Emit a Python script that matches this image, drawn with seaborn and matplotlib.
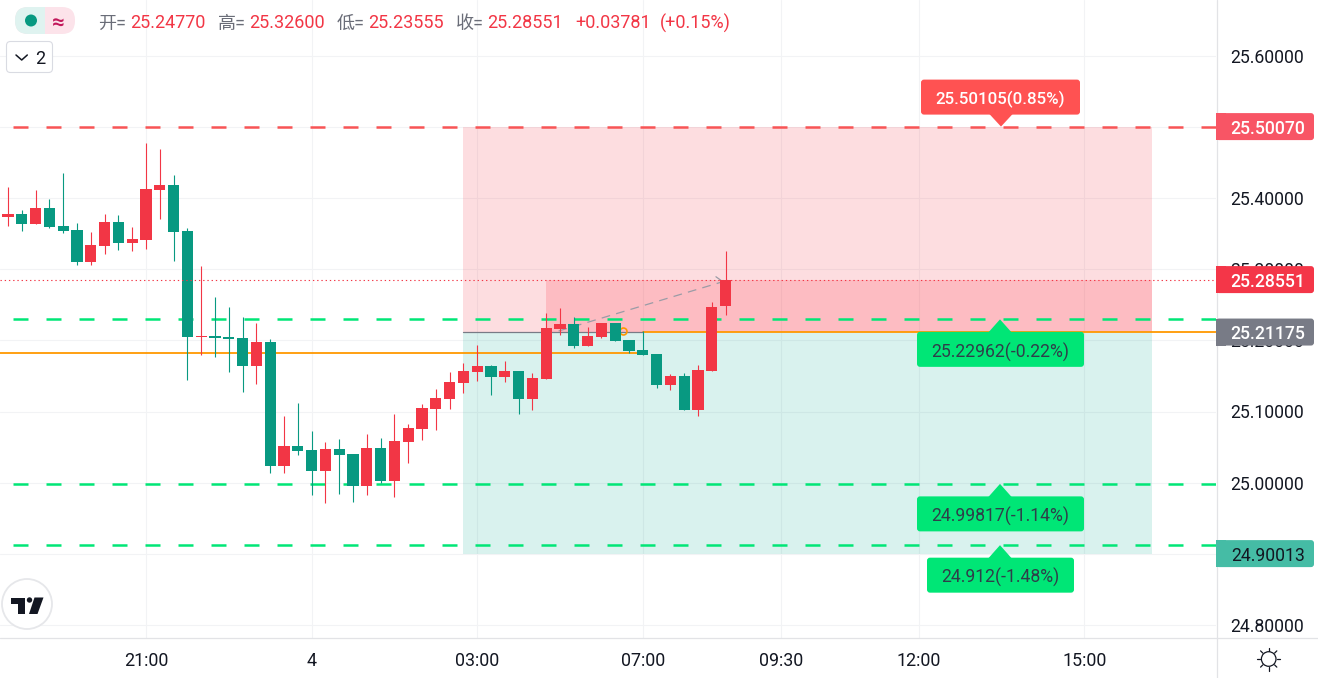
import numpy as np
import pandas as pd
import matplotlib
matplotlib.use('Agg')
import matplotlib.pyplot as plt
import seaborn as sns
from matplotlib.lines import Line2D
from matplotlib.patches import Circle, FancyBboxPatch, Polygon, Rectangle
from matplotlib.transforms import IdentityTransform

# candles, oldest first
opens = [25.3735, 25.3777, 25.3637, 25.3862, 25.3609, 25.3552, 25.3102, 25.3327, 25.3665, 25.3369,
         25.3412, 25.4115, 25.4185, 25.3538, 25.2047, 25.2061, 25.2047, 25.2033, 25.1639, 25.1977,
         25.0233, 25.0514, 25.0458, 25.0163, 25.0472, 25.0402, 24.9952, 25.0486, 25.0022, 25.0571,
         25.0753, 25.1035, 25.1175, 25.1400, 25.1555, 25.1639, 25.1485, 25.1569, 25.1175, 25.1457,
         25.2160, 25.2230, 25.1921, 25.2047, 25.2244, 25.2005, 25.1865, 25.1808, 25.1372, 25.1499,
         25.1021, 25.1569, 25.24770]
highs = [25.4157, 25.3834, 25.4115, 25.3988, 25.4354, 25.3651, 25.3524, 25.3777, 25.3763, 25.3594,
         25.4776, 25.4692, 25.4326, 25.3580, 25.3046, 25.2610, 25.2469, 25.2329, 25.2244, 25.2019,
         25.0936, 25.1119, 25.0725, 25.0571, 25.0613, 25.0402, 25.0683, 25.0627, 25.0964, 25.0824,
         25.1105, 25.1316, 25.1555, 25.1682, 25.1935, 25.1654, 25.1710, 25.1569, 25.1541, 25.2385,
         25.2455, 25.2329, 25.2188, 25.2244, 25.2244, 25.2005, 25.2132, 25.1808, 25.1527, 25.1541,
         25.1654, 25.2540, 25.32600]
lows = [25.3609, 25.3538, 25.3637, 25.3580, 25.3510, 25.3060, 25.3060, 25.3215, 25.3271, 25.3257,
        25.3285, 25.3707, 25.3116, 25.1443, 25.1794, 25.1766, 25.1555, 25.1274, 25.1386, 25.0135,
        25.0135, 25.0388, 24.9825, 24.9713, 24.9839, 24.9727, 24.9825, 24.9994, 24.9797, 25.0275,
        25.0599, 25.0739, 25.1035, 25.1260, 25.1429, 25.1232, 25.1414, 25.0964, 25.1021, 25.1457,
        25.2075, 25.1893, 25.1921, 25.2033, 25.1991, 25.1822, 25.1794, 25.1330, 25.1302, 25.1021,
        25.0936, 25.1569, 25.23555]
closes = [25.3777, 25.3637, 25.3862, 25.3594, 25.3538, 25.3102, 25.3341, 25.3665, 25.3369, 25.3426,
          25.4129, 25.4185, 25.3524, 25.2047, 25.2061, 25.2033, 25.2019, 25.1639, 25.1977, 25.0233,
          25.0514, 25.0444, 25.0163, 25.0472, 25.0388, 24.9952, 25.0486, 25.0022, 25.0585, 25.0767,
          25.1049, 25.1189, 25.1414, 25.1569, 25.1639, 25.1485, 25.1569, 25.1175, 25.1471, 25.2174,
          25.2230, 25.1921, 25.2061, 25.2244, 25.1991, 25.1850, 25.1794, 25.1372, 25.1499, 25.1021,
          25.1583, 25.2469, 25.28551]

x_tick_pos = [10, 22, 34, 46, 56, 66, 78]
x_tick_labels = ['21:00', '4', '03:00', '07:00', '09:30', '12:00', '15:00']
y_ticks = [24.8, 24.9, 25.0, 25.1, 25.2, 25.3, 25.4, 25.5, 25.6]

take_profit = 25.50070
stop_loss = 24.90013
entry = 25.21175
last_price = 25.28551
old_orange = 25.1822
green_levels = [25.2296, 24.9982, 24.9120]

# position box and arrow, in candle index units
box_start, box_split, box_end = 33, 39, 82.9
arrow_x = [39.9, 51.7]
arrow_y = [25.2132, 25.2820]

W, H = 1318, 678
PLOT_W, PLOT_H = 1216, 638
BAR_PX = 13.8
RED = '#f23645'
GREEN = '#089981'
DASH_GREEN = '#00e676'
DASH_RED = '#f85455'
ORANGE = '#ff9800'
GREY = '#787b86'
DARK = '#131722'
BORDER = '#e2e3e6'

sns.set_theme(style='white')
plt.rcParams['font.family'] = ['Roboto', 'Noto Sans CJK SC', 'DejaVu Sans']

df = pd.DataFrame({'idx': range(len(opens)), 'open': opens, 'high': highs, 'low': lows, 'close': closes})
df['bottom'] = df[['open', 'close']].min(axis=1)
df['body'] = (df['close'] - df['open']).abs()
up = df[df['close'] > df['open']]
down = df[df['close'] <= df['open']]

fig = plt.figure(figsize=(W / 100, H / 100), dpi=100, facecolor='white')
ax = fig.add_axes([0, (H - PLOT_H) / H, PLOT_W / W, PLOT_H / H])

# bodies and wicks
for part, color in [(up, RED), (down, GREEN)]:
    sns.barplot(data=part, x='idx', y='body', bottom=part['bottom'].values, native_scale=True,
                color=color, saturation=1, width=0.8, linewidth=0, errorbar=None, ax=ax, zorder=5)
    ax.vlines(part['idx'], part['low'], part['high'], colors=color, linewidth=0.8, zorder=4.5)

ax.set_xlim(10 - 146 / BAR_PX, 10 + (PLOT_W - 146) / BAR_PX)
ax.set_ylim(25.6 - (PLOT_H - 56) / 711, 25.6 + 56 / 711)
xmin, xmax = ax.get_xlim()

# position boxes
ax.axhspan(entry, take_profit, xmin=(box_start - xmin) / (xmax - xmin), xmax=(box_end - xmin) / (xmax - xmin),
           color='#f53b49', alpha=0.17, linewidth=0, zorder=1)
ax.axhspan(entry, last_price, xmin=(box_split - xmin) / (xmax - xmin), xmax=(box_end - xmin) / (xmax - xmin),
           color='#ff3c4a', alpha=0.2, linewidth=0, zorder=1.1)
ax.axhspan(stop_loss, entry, xmin=(box_start - xmin) / (xmax - xmin), xmax=(box_end - xmin) / (xmax - xmin),
           color='#02a88e', alpha=0.15, linewidth=0, zorder=1)

# level lines
dash = (0, (6, 7.2))
line_x0 = 10 + (13 - 146) / BAR_PX
ax.plot([line_x0, xmax], [take_profit, take_profit], color=DASH_RED, lw=1.8, ls=dash, dash_capstyle='butt', zorder=3)
for level in green_levels:
    ax.plot([line_x0, xmax], [level, level], color=DASH_GREEN, lw=1.8, ls=dash, dash_capstyle='butt', zorder=3)
ax.plot([xmin, 45.6], [old_orange, old_orange], color=ORANGE, lw=1.3, zorder=3)
ax.plot([46, xmax], [entry, entry], color=ORANGE, lw=1.3, zorder=3)
ax.plot([box_start, 46], [entry, entry], color=GREY, lw=0.9, zorder=3)
ax.plot([44.55], [25.2132], marker='o', ms=5, mfc='none', mec=ORANGE, mew=1.2, zorder=3)
ax.plot([xmin, xmax], [last_price, last_price], color=RED, lw=0.8, ls=(0, (1.2, 2.6)), zorder=6)

# trade arrow
ax.plot(arrow_x, arrow_y, color='#9a9ca6', lw=0.9, ls=(0, (7, 5)), zorder=4)
ax.plot([arrow_x[1] - 0.4, arrow_x[1]], [arrow_y[1] + 0.0075, arrow_y[1] + 0.002], color='#9a9ca6', lw=0.9, zorder=4)

# axes look
sns.despine(ax=ax, left=True, bottom=True, right=True, top=True)
ax.set_xlabel('')
ax.set_ylabel('')
ax.set_xticks(x_tick_pos)
ax.set_xticklabels(x_tick_labels, fontsize=12.9, color=DARK)
ax.yaxis.tick_right()
ax.set_yticks(y_ticks)
ax.set_yticklabels([f'{v:.5f}' for v in y_ticks], fontsize=12.7, color=DARK)
ax.tick_params(axis='x', length=0, pad=10.3)
ax.tick_params(axis='y', length=0, pad=10.2)
ax.grid(True, color='#f2f3f5', linewidth=0.8)
ax.set_axisbelow(True)
ax.patch.set_alpha(0)


def py(price):
    return ax.transData.transform((0, price))[1]


def add_box(x, y, w, h, color, radius=3, edge='none', z=20, lw=0):
    # x and y are display pixels, y measured from the bottom
    patch = FancyBboxPatch((x, y), w, h, boxstyle=f'round,pad=0,rounding_size={radius}', facecolor=color,
                           edgecolor=edge, linewidth=lw, transform=IdentityTransform(), zorder=z)
    fig.add_artist(patch)
    return patch


def add_text(x, y, s, z=21, va='center_baseline', **kw):
    fig.text(x, y, s, transform=IdentityTransform(), zorder=z, va=va, **kw)


def price_tag(price, label, color, text_color, weight='medium'):
    y = py(price)
    add_box(PLOT_W, y - 13.5, 98, 27, color, radius=3)
    fig.add_artist(Rectangle((PLOT_W, y - 13.5), 10, 27, facecolor=color, edgecolor='none',
                             transform=IdentityTransform(), zorder=20))
    add_text(1305, y, label, ha='right', fontsize=12.7, color=text_color, fontweight=weight)


def callout(index_px, price, left, right, label, color, text_color, size, weight='normal', above=False):
    apex = py(price)
    if above:
        top = apex + 12
        add_box(left, top, right - left, 35, color)
        pts = [(index_px - 12, top + 1), (index_px + 12, top + 1), (index_px, apex)]
        center = top + 17.5
    else:
        top = apex - 12.5
        add_box(left, top - 35, right - left, 35, color)
        pts = [(index_px - 12, top - 1), (index_px + 12, top - 1), (index_px, apex)]
        center = top - 18
    fig.add_artist(Polygon(pts, closed=True, facecolor=color, edgecolor='none',
                           transform=IdentityTransform(), zorder=20))
    add_text((left + right) / 2, center, label, ha='center', fontsize=size, color=text_color, fontweight=weight)


# frame lines of the price and time scales
fig.add_artist(Line2D([PLOT_W + 0.5, PLOT_W + 0.5], [0, H], color=BORDER, lw=0.9, transform=IdentityTransform(), zorder=10))
fig.add_artist(Line2D([0, W], [H - PLOT_H, H - PLOT_H], color=BORDER, lw=0.9, transform=IdentityTransform(), zorder=10))

# tags on the price scale
price_tag(take_profit, f'{take_profit:.5f}', '#f85565', 'white')
price_tag(last_price, f'{last_price:.5f}', '#f43648', 'white')
price_tag(entry, f'{entry:.5f}', GREY, 'white')
price_tag(stop_loss, f'{stop_loss:.5f}', '#45bca5', DARK, weight='normal')

# order callouts
callout(1001, take_profit, 921, 1080, '25.50105(0.85%)', '#ff5252', 'white', 12.2, weight='medium', above=True)
callout(1000, green_levels[0], 917, 1084, '25.22962(-0.22%)', '#00e676', '#2f3f4a', 12.7)
callout(1000, green_levels[1], 917, 1084, '24.99817(-1.14%)', '#00e676', '#2f3f4a', 12.7)
callout(1000, green_levels[2], 927, 1074, '24.912(-1.48%)', '#00e676', '#2f3f4a', 12.7)

# header values
head_y = H - 28.5
head_parts = [(98, '开=', '#6a6d78'), (130, '25.24770', RED), (218, '高=', '#6a6d78'), (249, '25.32600', RED),
              (337, '低=', '#6a6d78'), (368, '25.23555', RED), (456, '收=', '#6a6d78'), (487, '25.28551', RED),
              (575, '+0.03781', RED), (660, '(+0.15%)', RED)]
for hx, s, c in head_parts:
    add_text(hx, head_y, s, ha='left', va='baseline', fontsize=13, color=c)

# status pill
pink = add_box(15, H - 34, 60, 27, '#fce3ea', radius=13)
teal = add_box(15, H - 34, 60, 27, '#dff3f0', radius=13, z=20.5)
teal.set_clip_path(Rectangle((15, H - 34), 30, 27, transform=IdentityTransform()))
fig.add_artist(Circle((31, H - 20.5), 6, facecolor=GREEN, edgecolor='none', transform=IdentityTransform(), zorder=22))
add_text(58, H - 20, '≈', ha='center', fontsize=16, color='#c2185b', fontweight='bold', z=22)

# collapse button
add_box(6.5, H - 72.5, 46, 31, 'white', radius=4, edge='#d9dbe2', lw=0.8)
fig.add_artist(Line2D([16, 21.7, 27.3], [H - 55, H - 60, H - 55], color=DARK, lw=1.1,
                      transform=IdentityTransform(), zorder=21))
add_text(40.5, H - 57, '2', ha='center', fontsize=13, color=DARK)

# logo
fig.add_artist(Circle((27, H - 604), 25, facecolor='white', edgecolor='#e6e7ea', lw=1.3,
                      transform=IdentityTransform(), zorder=20))
logo_t = [(11, 597.5), (25, 597.5), (25, 614), (18, 614), (18, 603.5), (11, 603.5)]
logo_slash = [(34.5, 597.5), (43.5, 597.5), (37.5, 614), (29, 614)]
for shape in (logo_t, logo_slash):
    fig.add_artist(Polygon([(a, H - b) for a, b in shape], closed=True, facecolor=DARK, edgecolor='none',
                           transform=IdentityTransform(), zorder=21))
fig.add_artist(Circle((29.5, H - 600), 2.7, facecolor=DARK, edgecolor='none', transform=IdentityTransform(), zorder=21))

# settings icon
gx, gy = 1268.7, H - 659
fig.add_artist(Circle((gx, gy), 7.3, facecolor='white', edgecolor=DARK, lw=0.9, transform=IdentityTransform(), zorder=20))
for ang in np.radians(np.arange(0, 360, 45)):
    fig.add_artist(Line2D([gx + 8.3 * np.cos(ang), gx + 11.5 * np.cos(ang)], [gy + 8.3 * np.sin(ang), gy + 11.5 * np.sin(ang)],
                          color=DARK, lw=0.9, transform=IdentityTransform(), zorder=20))

fig.savefig('out.png', dpi=100, facecolor='white')
